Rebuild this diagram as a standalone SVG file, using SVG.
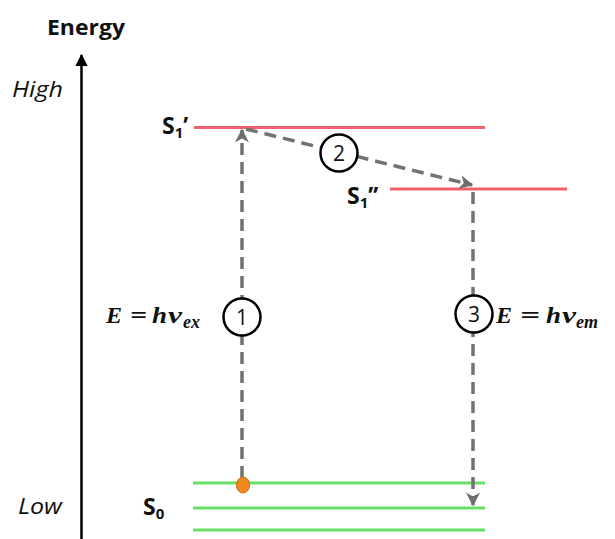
<svg xmlns="http://www.w3.org/2000/svg" width="615" height="539" viewBox="0 0 615 539">
<defs>
<marker id="ah" viewBox="0 0 10 10" refX="9" refY="5" markerWidth="4" markerHeight="4" orient="auto" markerUnits="strokeWidth">
<path d="M0,0 L10,5 L0,10 L3,5 Z" fill="#6e6e6e"/>
</marker>
<marker id="axh" viewBox="0 0 10 10" refX="9" refY="5" markerWidth="5" markerHeight="5" orient="auto" markerUnits="strokeWidth">
<path d="M0,0 L10,5 L0,10 Z" fill="#000"/>
</marker>
</defs>
<style>
.lbl{font-family:"Open Sans","Liberation Sans",sans-serif;fill:#111}
.b{font-weight:bold}
.it{font-style:italic;font-size:21px}
.red{stroke:#f0606a;stroke-width:3}
.grn{stroke:#66e066;stroke-width:3}
.dash{stroke:#727272;stroke-width:3.5;stroke-dasharray:12,7;fill:none}
.circ{fill:#fff;stroke:#000;stroke-width:2.5}
.num{font-family:"Open Sans","Liberation Sans",sans-serif;font-size:21px;text-anchor:middle;fill:#111}
.math{font-family:"Liberation Serif","DejaVu Serif",serif;font-weight:bold;font-style:italic;font-size:24px;fill:#111}
.sub{font-size:18px}
</style>
<rect width="615" height="539" fill="#fff"/>
<g id="axis">
<line x1="81.5" y1="539" x2="81.5" y2="55" stroke="#000" stroke-width="2.5" marker-end="url(#axh)"/>
<text class="lbl b" x="47" y="35" font-size="21" textLength="78" lengthAdjust="spacingAndGlyphs">Energy</text>
<text class="lbl it" x="12" y="97" textLength="51" lengthAdjust="spacingAndGlyphs">High</text>
<text class="lbl it" x="18" y="514" textLength="44" lengthAdjust="spacingAndGlyphs">Low</text>
</g>
<g id="S1p">
<line class="red" x1="194" y1="127.5" x2="485" y2="127.5"/>
<text class="lbl b" x="162" y="134" font-size="23">S<tspan font-size="15" dy="4">1</tspan><tspan dy="-4">’</tspan></text>
</g>
<g id="S1pp">
<line class="red" x1="390" y1="189" x2="567" y2="189"/>
<text class="lbl b" x="347" y="204" font-size="23">S<tspan font-size="15" dy="4">1</tspan><tspan dy="-4">’’</tspan></text>
</g>
<g id="S0">
<line class="grn" x1="193" y1="483" x2="485" y2="483"/>
<line class="grn" x1="193" y1="508" x2="485" y2="508"/>
<line class="grn" x1="193" y1="530" x2="485" y2="530"/>
<text class="lbl b" x="143" y="515" font-size="23">S<tspan font-size="15" dy="4">0</tspan></text>
</g>
<g id="connectors">
<line class="dash" x1="242" y1="478" x2="242" y2="130" marker-end="url(#ah)"/>
<line class="dash" x1="246" y1="129" x2="472" y2="185" marker-end="url(#ah)"/>
<line class="dash" x1="473" y1="192" x2="473" y2="505" marker-end="url(#ah)"/>
</g>
<g id="electron">
<ellipse cx="243" cy="485" rx="6.5" ry="8" fill="#f08a20" stroke="#c86a10" stroke-width="1"/>
</g>
<g id="step1">
<circle class="circ" cx="242" cy="317" r="18.5"/>
<text class="num" x="242" y="325">1</text>
<text class="math" y="323"><tspan x="106">E</tspan><tspan x="130" textLength="17" lengthAdjust="spacingAndGlyphs">=</tspan><tspan x="152" textLength="15" lengthAdjust="spacingAndGlyphs">h</tspan><tspan x="168" textLength="14" lengthAdjust="spacingAndGlyphs">ν</tspan><tspan class="sub" x="183" dy="5">ex</tspan></text>
</g>
<g id="step2">
<circle class="circ" cx="339" cy="153" r="18.5"/>
<text class="num" x="339" y="161">2</text>
</g>
<g id="step3">
<circle class="circ" cx="474" cy="314" r="18.5"/>
<text class="num" x="474" y="322">3</text>
<text class="math" y="323"><tspan x="496">E</tspan><tspan x="520" textLength="20" lengthAdjust="spacingAndGlyphs">=</tspan><tspan x="546" textLength="15" lengthAdjust="spacingAndGlyphs">h</tspan><tspan x="562" textLength="14" lengthAdjust="spacingAndGlyphs">ν</tspan><tspan class="sub" x="576" dy="5">em</tspan></text>
</g>
</svg>
